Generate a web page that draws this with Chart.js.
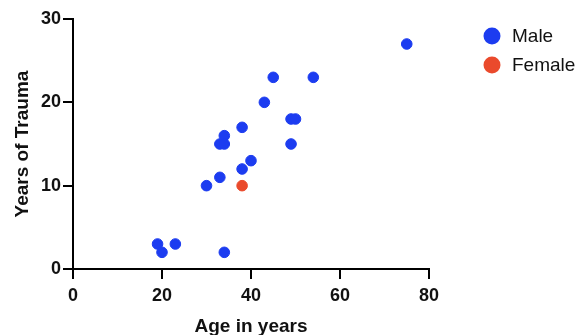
<!DOCTYPE html>
<html>
<head>
<meta charset="utf-8">
<script src="https://cdn.jsdelivr.net/npm/chart.js@4"></script>
<style>
html,body{margin:0;padding:0;background:#fff;}
#wrap{width:580px;height:335px;position:relative;}
</style>
</head>
<body>
<div id="wrap"><canvas id="c" width="580" height="335"></canvas></div>
<script>
const maleAge   = [75, 45, 54, 43, 49, 50, 38, 34, 33, 34, 49, 40, 38, 33, 30, 19, 20, 23, 34];
const maleYears = [27, 23, 23, 20, 18, 18, 17, 16, 15, 15, 15, 13, 12, 11, 10, 3, 2, 3, 2];
const femaleAge   = [38];
const femaleYears = [10];
const seriesLabels = ['Male', 'Female'];
const xTicks = [0, 20, 40, 60, 80];
const yTicks = [0, 10, 20, 30];

const BLUE = '#1c3cf0';
const RED = '#ea4a2c';
const FONT = '"Liberation Sans", Arial, Helvetica, sans-serif';

function pts(xs, ys){ return xs.map((x,i)=>({x:x, y:ys[i]})); }

const legendPlugin = {
  id: 'customLegend',
  afterDraw(chart){
    const ctx = chart.ctx;
    ctx.save();
    chart.data.datasets.forEach((ds, i) => {
      const cx = 492, cy = 36 + i * 29;
      ctx.beginPath();
      ctx.arc(cx, cy, 8.5, 0, Math.PI * 2);
      ctx.fillStyle = ds.backgroundColor;
      ctx.fill();
      ctx.fillStyle = '#111';
      ctx.font = '19px ' + FONT;
      ctx.textBaseline = 'middle';
      ctx.textAlign = 'left';
      ctx.fillText(ds.label, 512, cy + 1);
    });
    ctx.restore();
  }
};

new Chart(document.getElementById('c'), {
  type: 'scatter',
  data: {
    datasets: [
      { label: seriesLabels[0], data: pts(maleAge, maleYears), backgroundColor: BLUE, borderColor: BLUE, pointRadius: 5.3, pointHoverRadius: 5.3, clip: false },
      { label: seriesLabels[1], data: pts(femaleAge, femaleYears), backgroundColor: RED, borderColor: RED, pointRadius: 5.3, pointHoverRadius: 5.3, clip: false }
    ]
  },
  options: {
    responsive: false,
    animation: false,
    devicePixelRatio: 1,
    layout: { padding: { top: 19, right: 151, left: 0, bottom: 0 } },
    plugins: { legend: { display: false }, tooltip: { enabled: false } },
    scales: {
      x: {
        type: 'linear', min: 0, max: 80,
        afterFit(s){ s.height = 66; },
        afterBuildTicks(s){ s.ticks = xTicks.map(v=>({value:v})); },
        grid: { drawOnChartArea: false, color: '#000', lineWidth: 2, tickLength: 10 },
        border: { display: true, color: '#000', width: 2 },
        ticks: { color: '#111', padding: 6, font: { family: FONT, size: 18, weight: 'bold' } },
        title: { display: true, text: 'Age in years', color: '#111', padding: { top: 0, bottom: -3 }, font: { family: FONT, size: 19, weight: 'bold' } }
      },
      y: {
        type: 'linear', min: 0, max: 30,
        afterFit(s){ s.width = 73; },
        afterBuildTicks(s){ s.ticks = yTicks.map(v=>({value:v})); },
        grid: { drawOnChartArea: false, color: '#000', lineWidth: 2, tickLength: 10 },
        border: { display: true, color: '#000', width: 2 },
        ticks: { color: '#111', padding: 2, font: { family: FONT, size: 18, weight: 'bold' } },
        title: { display: true, text: 'Years of Trauma', color: '#111', padding: { top: 11, bottom: 0 }, font: { family: FONT, size: 19, weight: 'bold' } }
      }
    }
  },
  plugins: [legendPlugin]
});
</script>
</body>
</html>
